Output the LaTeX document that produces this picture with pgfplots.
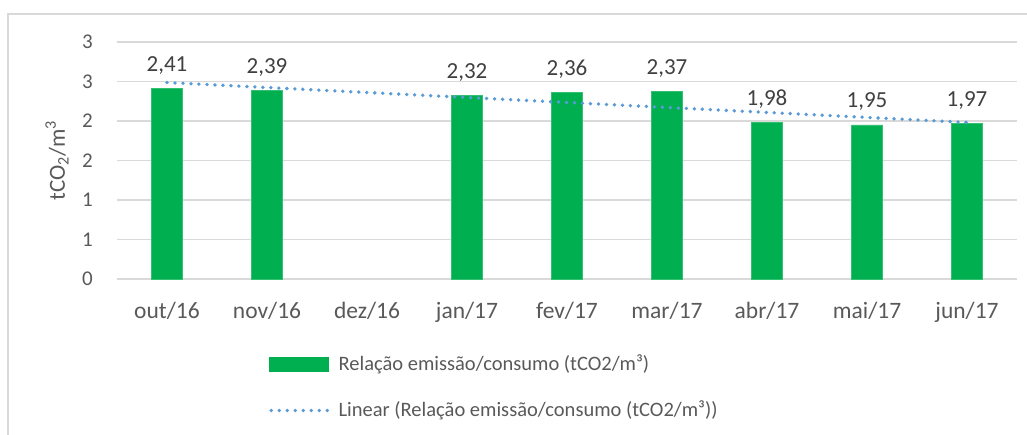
\documentclass[border=0pt]{standalone}
\usepackage{fontspec}
\setmainfont{Carlito}
\usepackage{pgfplots}
\pgfplotsset{compat=1.18}
\definecolor{barg}{HTML}{00B050}
\definecolor{trend}{HTML}{5B9BD5}
\definecolor{gridc}{HTML}{D9D9D9}
\definecolor{txt}{HTML}{595959}
\definecolor{lbl}{HTML}{404040}
\begin{document}
\begin{tikzpicture}
\useasboundingbox (0,0) rectangle (1027pt,434pt);
\draw[gridc, line width=1.3pt] (8pt,-20pt) rectangle (1045pt,420pt);
\begin{axis}[
  at={(117pt,155pt)}, anchor=south west,
  scale only axis, width=900pt, height=237pt,
  xmin=0.5, xmax=9.5, ymin=0, ymax=3,
  xtick={1,...,9},
  xticklabels={out/16,nov/16,dez/16,jan/17,fev/17,mar/17,abr/17,mai/17,jun/17},
  ytick={0,0.5,1,1.5,2,2.5,3},
  yticklabels={0,1,1,2,2,3,3},
  /pgf/number format/assume math mode=true,
  ymajorgrids, grid style={gridc, line width=1.3pt},
  axis line style={draw=none}, tick style={draw=none}, major tick length=0pt,
  yticklabel style={font=\fontsize{21}{25}\selectfont, text=txt, inner sep=0pt, anchor=east, xshift=-24pt},
  xticklabel style={font=\fontsize{23.5}{28}\selectfont, text=txt, inner sep=0pt, anchor=base, yshift=-39pt},
  ylabel={tCO\textsubscript{2}/m\textsuperscript{3}},
  ylabel style={font=\fontsize{23}{27}\selectfont, text=txt, at={(axis description cs:-0.0667,0.5)}, anchor=center, inner sep=0pt},
  legend style={at={(axis description cs:0.169,-0.32)}, anchor=north west, draw=none, fill=none, inner sep=0pt,
    font=\fontsize{20.5}{25}\selectfont, text=txt, row sep=27pt,
    nodes={inner sep=0pt, text height=15pt, text depth=4pt}},
  legend cell align=left,
  clip=false,
]
\addplot[ybar, bar width=31pt, fill=barg, draw=barg!80!white, line width=0.6pt,
  nodes near coords={\pgfmathprintnumber[use comma,fixed,fixed zerofill,precision=2]{\pgfplotspointmeta}},
  every node near coord/.append style={font=\fontsize{23}{27}\selectfont, text=lbl, anchor=base, yshift=17pt, inner sep=0pt},
  legend image code/.code={\fill[barg] (0pt,-7pt) rectangle (59pt,7pt); \path (67pt,0pt);}]
  coordinates {(1,2.41) (2,2.39) (4,2.32) (5,2.36) (6,2.37) (7,1.98) (8,1.95) (9,1.97)};
\addlegendentry{Relação emissão/consumo (tCO2/m³)}
\addplot[trend, line width=3.8pt, line cap=round, dash pattern=on 0pt off 8pt,
  legend image code/.code={\draw[trend, line width=3.8pt, line cap=round, dash pattern=on 0pt off 8pt] (1.5pt,0pt) -- (59pt,0pt); \path (67pt,0pt);}]
  coordinates {(1,2.487) (9,1.982)};
\addlegendentry{Linear (Relação emissão/consumo (tCO2/m³))}
\end{axis}
\end{tikzpicture}
\end{document}
